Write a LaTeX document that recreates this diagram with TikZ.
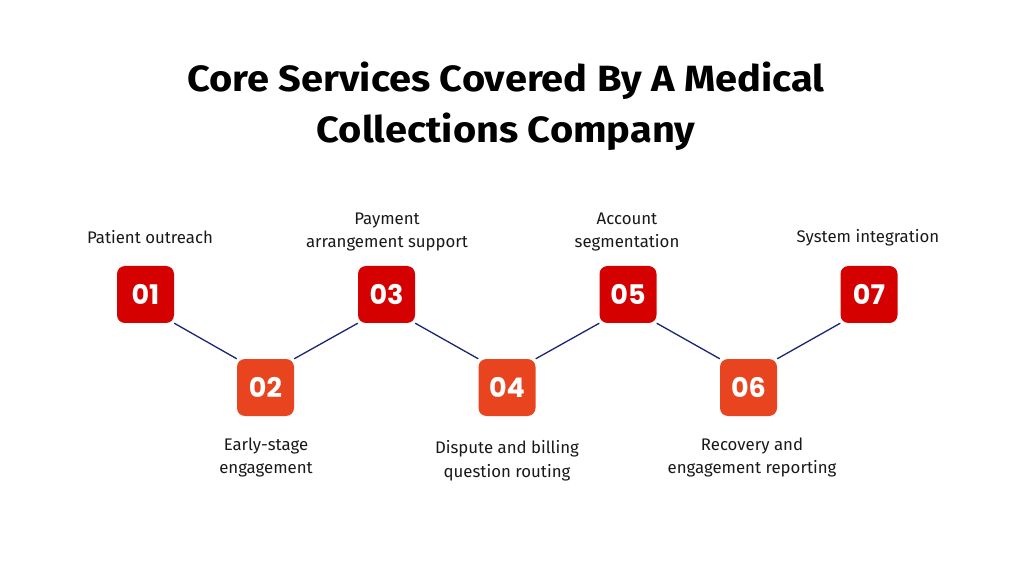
\documentclass[tikz,border=0pt]{standalone}
\usepackage{fontspec}
\setmainfont{Fira Sans}
\newfontfamily\titlefont{Fira Sans}[UprightFont=* Bold,FakeStretch=1.09]
\newfontfamily\numfont{Poppins}[UprightFont=* Bold]
\usepackage{xcolor}
\usetikzlibrary{positioning}
\definecolor{oddred}{HTML}{D50000}
\definecolor{evenred}{HTML}{E94420}
\definecolor{linknavy}{HTML}{1C2371}
\tikzset{
    numbox/.style={rectangle,rounded corners=8pt,minimum size=57pt,inner sep=0pt,
        text=white,font=\numfont\fontsize{27}{27}\selectfont},
    oddbox/.style={numbox,fill=oddred},
    evenbox/.style={numbox,fill=evenred},
    caption/.style={align=center,font=\fontsize{16.8}{23.5}\selectfont,text=black!90},
    link/.style={draw=linknavy,line width=1.3pt}
}

\begin{document}
\begin{tikzpicture}[x=1pt,y=-1pt]
    \useasboundingbox (0,0) rectangle (1012,569);
    % Title
    \node[align=center,font=\titlefont\fontsize{36.5}{51}\selectfont] (title) at (506,106)
        {Core Services Covered By A Medical\\Collections Company};
    % Steps
    \node[oddbox] (s1) at (145.5,294.5) {01};
    \node[evenbox] (s2) at (265.5,387.5) {02};
    \node[oddbox] (s3) at (386.5,294.5) {03};
    \node[evenbox] (s4) at (507,387.5) {04};
    \node[oddbox] (s5) at (628,294.5) {05};
    \node[evenbox] (s6) at (748.5,387.5) {06};
    \node[oddbox] (s7) at (869,294.5) {07};
    % Zigzag
    \draw[link] (s1.south east) -- (s2.north west);
    \draw[link] (s2.north east) -- (s3.south west);
    \draw[link] (s3.south east) -- (s4.north west);
    \draw[link] (s4.north east) -- (s5.south west);
    \draw[link] (s5.south east) -- (s6.north west);
    \draw[link] (s6.north east) -- (s7.south west);
    % Captions
    \node[caption] (c1) at (150,237) {Patient outreach};
    \node[caption] (c3) at (387,232) {Payment\\arrangement support};
    \node[caption] (c5) at (627,232) {Account\\segmentation};
    \node[caption] (c7) at (868,238) {System integration};
    \node[caption] (c2) at (266,457.5) {Early-stage\\engagement};
    \node[caption] (c4) at (507,460.5) {Dispute and billing\\question routing};
    \node[caption] (c6) at (752,457.5) {Recovery and\\engagement reporting};
\end{tikzpicture}
\end{document}
